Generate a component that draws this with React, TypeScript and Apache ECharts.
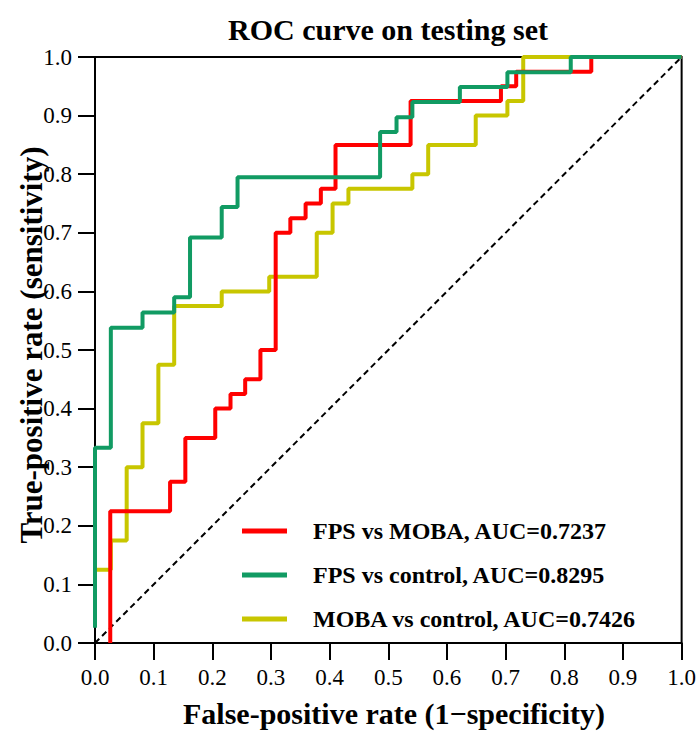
import React, { useEffect, useRef } from "react";
import * as echarts from "echarts";

const SERIES_NAMES = [
  "FPS vs MOBA, AUC=0.7237",
  "FPS vs control, AUC=0.8295",
  "MOBA vs control, AUC=0.7426",
];

// ROC step points [FPR, TPR]
const fpsVsMoba: [number, number][] = [
  [0.026, 0], [0.026, 0.225], [0.128, 0.275], [0.154, 0.35], [0.205, 0.4],
  [0.231, 0.425], [0.256, 0.45], [0.282, 0.5], [0.308, 0.7], [0.333, 0.725],
  [0.359, 0.75], [0.385, 0.775], [0.41, 0.85], [0.538, 0.925], [0.692, 0.95],
  [0.718, 0.975], [0.846, 1.0], [1.0, 1.0],
];
const fpsVsControl: [number, number][] = [
  [0, 0.026], [0, 0.333], [0.027, 0.538], [0.081, 0.564], [0.135, 0.59],
  [0.162, 0.692], [0.216, 0.744], [0.243, 0.795], [0.486, 0.872], [0.514, 0.897],
  [0.541, 0.923], [0.622, 0.949], [0.703, 0.974], [0.811, 1.0], [1.0, 1.0],
];
const mobaVsControl: [number, number][] = [
  [0, 0.125], [0.027, 0.175], [0.054, 0.3], [0.081, 0.375], [0.108, 0.475],
  [0.135, 0.575], [0.216, 0.6], [0.297, 0.625], [0.378, 0.7], [0.405, 0.75],
  [0.432, 0.775], [0.541, 0.8], [0.568, 0.85], [0.649, 0.9], [0.703, 0.925],
  [0.73, 1.0], [1.0, 1.0],
];
const diagonal: [number, number][] = [[0, 0], [1, 1]];

const COLORS = ["#FF0000", "#119B63", "#C8C600"];
const FONT = "'Liberation Serif', 'Times New Roman', serif";

export default function App() {
  const ref = useRef<HTMLDivElement>(null);
  useEffect(() => {
    if (!ref.current) return;
    const chart = echarts.init(ref.current, undefined, { renderer: "svg" });
    const axisCommon = {
      type: "value" as const,
      min: 0,
      max: 1,
      interval: 0.1,
      splitLine: { show: false },
      axisLine: { show: true, onZero: false, lineStyle: { color: "#000", width: 2 } },
      axisTick: { show: true, inside: false, length: 17, lineStyle: { color: "#000", width: 2 } },
      axisLabel: {
        margin: 23,
        color: "#000",
        fontFamily: FONT,
        fontSize: 23,
        formatter: (v: number) => v.toFixed(1),
      },
    };
    chart.setOption({
      animation: false,
      backgroundColor: "#fff",
      grid: {
        left: 95,
        top: 57,
        width: 587,
        height: 586,
        show: true,
        borderColor: "#000",
        borderWidth: 2,
      },
      xAxis: { ...axisCommon },
      yAxis: { ...axisCommon },
      legend: {
        data: SERIES_NAMES,
        orient: "vertical",
        left: 237,
        top: 514,
        itemWidth: 45,
        itemHeight: 5,
        icon: "rect",
        itemGap: 20,
        textStyle: {
          fontFamily: FONT,
          fontWeight: "bold",
          fontSize: 24,
          color: "#000",
          padding: [0, 0, 0, 21],
        },
      },
      graphic: [
        {
          type: "text",
          x: 388,
          y: 29,
          style: {
            text: "ROC curve on testing set",
            font: `bold 30px ${FONT}`,
            fill: "#000",
            textAlign: "center",
            textVerticalAlign: "middle",
          },
        },
        {
          type: "text",
          x: 394,
          y: 713,
          style: {
            text: "False-positive rate (1\u2212specificity)",
            font: `bold 30px ${FONT}`,
            fill: "#000",
            textAlign: "center",
            textVerticalAlign: "middle",
          },
        },
        {
          type: "text",
          x: 31,
          y: 345,
          rotation: Math.PI / 2,
          style: {
            text: "True-positive rate (sensitivity)",
            font: `bold 31px ${FONT}`,
            fill: "#000",
            textAlign: "center",
            textVerticalAlign: "middle",
          },
        },
      ],
      series: [
        {
          name: "diag",
          type: "line",
          data: diagonal,
          symbol: "none",
          z: 1,
          lineStyle: { color: "#000", width: 2, type: [6, 4] },
          silent: true,
        },
        {
          name: SERIES_NAMES[0],
          type: "line",
          data: fpsVsMoba,
          step: "end",
          symbol: "none",
          color: COLORS[0],
          z: 3,
          lineStyle: { color: COLORS[0], width: 4 },
        },
        {
          name: SERIES_NAMES[1],
          type: "line",
          data: fpsVsControl,
          step: "end",
          symbol: "none",
          color: COLORS[1],
          z: 4,
          lineStyle: { color: COLORS[1], width: 4 },
        },
        {
          name: SERIES_NAMES[2],
          type: "line",
          data: mobaVsControl,
          step: "end",
          symbol: "none",
          color: COLORS[2],
          z: 2,
          lineStyle: { color: COLORS[2], width: 4 },
        },
      ],
    });
    return () => chart.dispose();
  }, []);
  return (
    <div
      ref={ref}
      style={{ position: "fixed", left: 0, top: 0, width: 699, height: 731, background: "#fff" }}
    />
  );
}
